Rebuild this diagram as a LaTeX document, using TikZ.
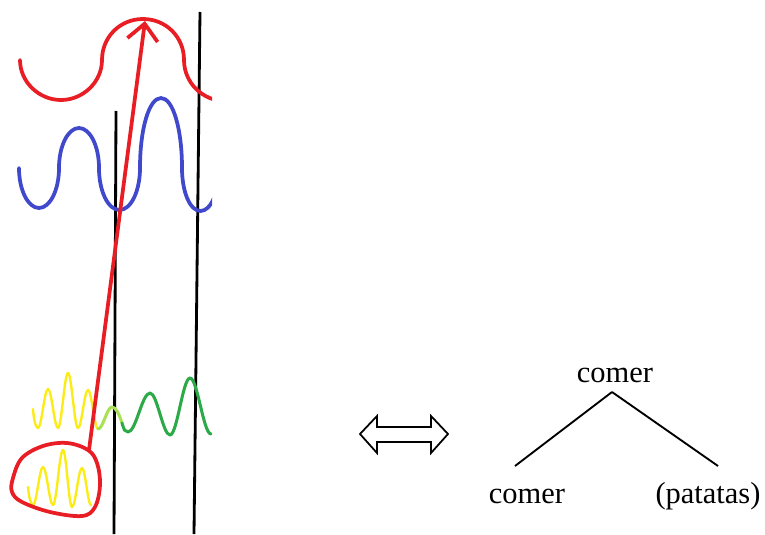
\documentclass[tikz,border=0pt]{standalone}
\usepackage{fontspec}
\setmainfont{Liberation Serif}
\usepackage{xcolor}
\usetikzlibrary{arrows.meta}
\definecolor{wred}{RGB}{232,30,36}
\definecolor{wblue}{RGB}{64,72,204}
\definecolor{wyellow}{RGB}{250,236,20}
\definecolor{wlgreen}{RGB}{168,226,84}
\definecolor{wgreen}{RGB}{44,170,72}
\tikzset{
	wave/.style={line width=3.2pt,line cap=round,line join=round},
	thinwave/.style={line width=2pt,line cap=round,line join=round},
	word/.style={font=\fontsize{26}{30}\selectfont,inner sep=0pt,anchor=base},
	branch/.style={line width=1.6pt}
}

\begin{document}
\begin{tikzpicture}[x=0.03cm,y=-0.03cm]
	\useasboundingbox (0,0) rectangle (765,534);
	\begin{scope}
	\clip (0,0) rectangle (212,534);
	% the two vertical bars
	\draw[line width=2.4pt,black] (116,111) -- (114,534);
	\draw[line width=2.4pt,black] (200,12) -- (194,534);
	% red wave: half circles
	\draw[wave,wred] (20,60) .. controls (20,82) and (39,100) .. (61,100) .. controls (83,100) and (102,82) .. (102,60)
		.. controls (102,37) and (120,19) .. (143,19) .. controls (166,19) and (184,37) .. (184,60)
		.. controls (184,83) and (203,101) .. (225,101);
	% blue wave: half ellipses
	\draw[wave,wblue] (19,168) .. controls (19,190) and (28,208) .. (39,208) .. controls (50,208) and (59,190) .. (59,168)
		.. controls (59,146) and (68,128) .. (79,128) .. controls (90,128) and (99,146) .. (99,168)
		.. controls (99,191) and (108,210) .. (119.5,210) .. controls (131,210) and (140,191) .. (140,168)
		.. controls (140,129) and (149,98) .. (161,98) .. controls (173,98) and (182,129) .. (182,168)
		.. controls (182,192) and (190,211) .. (200.5,211) .. controls (211,211) and (219,192) .. (219,168);
	% small waves at the bottom
	\draw[thinwave,wyellow] (33,409) .. controls (34,422) and (36,428) .. (38,428)
		.. controls (41.6,428) and (44.4,389) .. (48,389) .. controls (51.6,389) and (54.4,428) .. (58,428)
		.. controls (61.6,428) and (64.4,373) .. (68,373) .. controls (71.6,373) and (74.4,428) .. (78,428)
		.. controls (81.6,428) and (84.4,390) .. (88,390) .. controls (91.6,390) and (94.4,429) .. (98,429);
	\draw[wave,line width=2.6pt,wlgreen] (98,429) .. controls (103,429) and (107,407) .. (112,407)
		.. controls (116,407) and (119,414) .. (122,423);
	\draw[wave,line width=2.6pt,wgreen] (122,423) .. controls (124,430) and (125,432) .. (128,432)
		.. controls (136,432) and (142,393) .. (150,393) .. controls (157.2,393) and (162.8,435) .. (170,435)
		.. controls (177.2,435) and (182.8,378) .. (190,378) .. controls (197.5,378) and (203.4,434) .. (211,434);
	\draw[thinwave,wyellow] (28,487) .. controls (29,498) and (31,505) .. (33,505)
		.. controls (36.6,505) and (39.4,467) .. (43,467) .. controls (46.6,467) and (49.4,505) .. (53,505)
		.. controls (56.6,505) and (59.4,450) .. (63,450) .. controls (66.2,450) and (68.8,507) .. (72,507)
		.. controls (75.6,507) and (78.4,468) .. (82,468) .. controls (85.2,468) and (87.8,505) .. (91,505);
	% red loop and the arrow leaving it
	\draw[wave,wred] plot[smooth cycle,tension=0.6] coordinates {(88,450) (67,443) (43,446) (22,458) (13,478) (12,492) (22,502) (50,512) (82,516) (95,507) (100,485) (97,463)};
	\draw[wave,wred,-{Straight Barb[length=14pt,width=26pt,line width=3.2pt]}] (89,450) -- (145,21);
	\end{scope}
	% double arrow
	\draw[line width=1.5pt] (360,434) -- (377,416) -- (377,427) -- (431,427) -- (431,416) -- (448,434) -- (431,453) -- (431,442) -- (377,442) -- (377,453) -- cycle;
	% the tree
	\node[word] (head) at (615,382) {comer};
	\node[word] (lleaf) at (527,503) {comer};
	\node[word] (rleaf) at (708,503) {(patatas)};
	\coordinate (apex) at (612,392);
	\coordinate (lend) at (515,466);
	\coordinate (rend) at (718,466);
	\draw[branch] (apex) -- (lend);
	\draw[branch] (apex) -- (rend);
\end{tikzpicture}
\end{document}
